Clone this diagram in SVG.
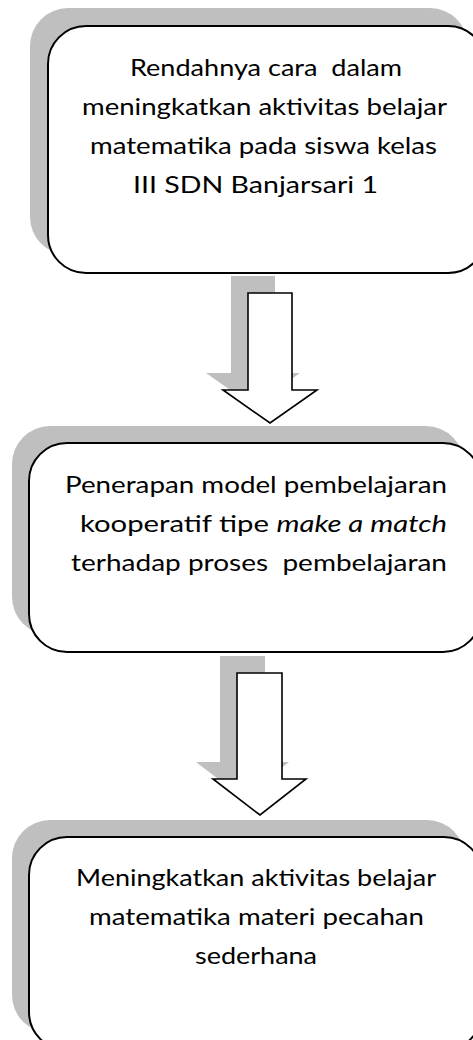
<svg xmlns="http://www.w3.org/2000/svg" width="473" height="1040" viewBox="0 0 473 1040">
<style>
.shadow{fill:#bfbfbf;stroke:none}
.box{fill:#fff;stroke:#000;stroke-width:2}
.arrow{fill:#fff;stroke:#000;stroke-width:1.6;stroke-linejoin:miter}
.t{font-family:Lato,"Open Sans","Liberation Sans",sans-serif;font-size:24px;fill:#000;text-anchor:middle}
</style>
<rect width="473" height="1040" fill="#fff"/>
<g id="connectors">
  <polygon class="shadow" points="231,276 275,276 275,373 300,373 253,406 206,373 231,373"/>
  <polygon class="arrow" points="248,293 292,293 292,390 317,390 270,423 223,390 248,390"/>
  <polygon class="shadow" points="220,656 265,656 265,762 289,762 243,798 196,762 220,762"/>
  <polygon class="arrow" points="237,673 282,673 282,779 306,779 260,815 213,779 237,779"/>
</g>
<g id="node1">
  <rect class="shadow" x="30" y="8" width="438" height="247" rx="38"/>
  <rect class="box" x="48" y="26" width="438" height="247" rx="38"/>
  <text class="t" x="266" y="76" textLength="272" lengthAdjust="spacingAndGlyphs" xml:space="preserve">Rendahnya cara  dalam</text>
  <text class="t" x="264.5" y="115" textLength="365" lengthAdjust="spacingAndGlyphs">meningkatkan aktivitas belajar</text>
  <text class="t" x="263.5" y="154" textLength="347" lengthAdjust="spacingAndGlyphs">matematika pada siswa kelas</text>
  <text class="t" x="255.5" y="193" textLength="245" lengthAdjust="spacingAndGlyphs">III SDN Banjarsari 1</text>
</g>
<g id="node2">
  <rect class="shadow" x="12" y="426" width="452" height="209" rx="38"/>
  <rect class="box" x="29" y="443" width="452" height="209" rx="38"/>
  <text class="t" x="256" y="493" textLength="382" lengthAdjust="spacingAndGlyphs">Penerapan model pembelajaran</text>
  <text class="t" x="263.5" y="532" textLength="367" lengthAdjust="spacingAndGlyphs">kooperatif tipe <tspan font-style="italic">make a match</tspan></text>
  <text class="t" x="259" y="571" textLength="376" lengthAdjust="spacingAndGlyphs" xml:space="preserve">terhadap proses  pembelajaran</text>
</g>
<g id="node3">
  <rect class="shadow" x="12" y="820" width="453" height="213" rx="38"/>
  <rect class="box" x="29" y="837" width="453" height="213" rx="38"/>
  <text class="t" x="256" y="886" textLength="360" lengthAdjust="spacingAndGlyphs">Meningkatkan aktivitas belajar</text>
  <text class="t" x="256.5" y="925" textLength="335" lengthAdjust="spacingAndGlyphs">matematika materi pecahan</text>
  <text class="t" x="256" y="964" textLength="122" lengthAdjust="spacingAndGlyphs">sederhana</text>
</g>
</svg>
